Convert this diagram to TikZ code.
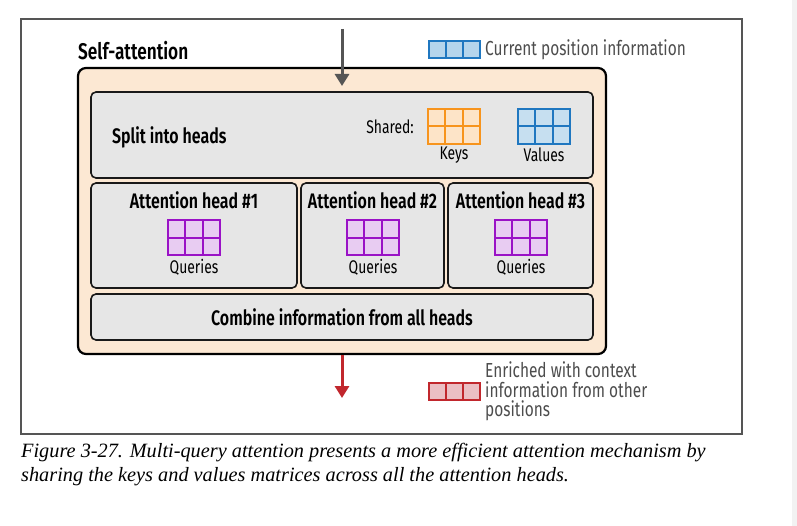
\documentclass[tikz,border=0pt]{standalone}
\usepackage{fontspec}
\setmainfont{Fira Sans}[FakeStretch=0.76, BoldFont={Fira Sans SemiBold}, BoldFeatures={FakeStretch=0.76}]
\newfontfamily\capfont{Liberation Serif}
\usetikzlibrary{arrows.meta,calc}
\definecolor{peach}{HTML}{FCE8D3}
\definecolor{boxgray}{HTML}{E6E6E6}
\definecolor{korange}{HTML}{F7941D}
\definecolor{korangefill}{HTML}{FDE4C8}
\definecolor{vblue}{HTML}{1F77C0}
\definecolor{vbluefill}{HTML}{C6DFF0}
\definecolor{lblue}{HTML}{B5D5EC}
\definecolor{qpurple}{HTML}{9A12C6}
\definecolor{qpurplefill}{HTML}{E8CCF2}
\definecolor{ered}{HTML}{C1272D}
\definecolor{eredfill}{HTML}{EBBFC4}
\definecolor{darkgray}{HTML}{555555}
\definecolor{txtgray}{HTML}{4D4D4D}
\tikzset{
  panel/.style={draw=black!90, line width=1.6pt, fill=boxgray, rounded corners=5pt, inner sep=0pt},
  title/.style={font=\fontsize{21}{24}\selectfont\bfseries, inner sep=0pt},
  lbl/.style={font=\fontsize{18.3}{20}\selectfont, inner sep=0pt},
  legend/.style={font=\fontsize{20.3}{19.5}\selectfont, text=txtgray, inner sep=0pt, align=left},
  cell/.style={line width=2pt, inner sep=0pt},
  grid32/.style={cell, draw=#1, path picture={
    \draw[#1, line width=2pt]
      ($(path picture bounding box.north west)!1/3!(path picture bounding box.north east)$) --
      ($(path picture bounding box.south west)!1/3!(path picture bounding box.south east)$)
      ($(path picture bounding box.north west)!2/3!(path picture bounding box.north east)$) --
      ($(path picture bounding box.south west)!2/3!(path picture bounding box.south east)$)
      (path picture bounding box.west) -- (path picture bounding box.east);}},
  grid31/.style={cell, draw=#1, path picture={
    \draw[#1, line width=2pt]
      ($(path picture bounding box.north west)!1/3!(path picture bounding box.north east)$) --
      ($(path picture bounding box.south west)!1/3!(path picture bounding box.south east)$)
      ($(path picture bounding box.north west)!2/3!(path picture bounding box.north east)$) --
      ($(path picture bounding box.south west)!2/3!(path picture bounding box.south east)$);}},
  flow/.style={line width=3pt, -{Triangle[length=12pt,width=14pt]}},
}
\begin{document}
\begin{tikzpicture}[x=1pt,y=-1pt]
\useasboundingbox (0,0) rectangle (797,526);
\fill[white] (0,0) rectangle (797,526);
\fill[black!5] (792,0) rectangle (797,526);
% outer frame
\draw[darkgray, line width=1.3pt] (21,19) rectangle (742,434);
% title
\node[font=\fontsize{22.7}{24}\selectfont\bfseries, anchor=west, inner sep=0pt] (satitle) at (78,51) {Self-attention};
% container
\node[draw=black, line width=2.2pt, fill=peach, rounded corners=8pt, minimum width=528pt, minimum height=286pt, inner sep=0pt] (cont) at (342,211) {};
% split box
\node[panel, minimum width=502pt, minimum height=86pt] (split) at (342,135) {};
\node[title, anchor=west] (splitlbl) at (112,137) {Split into heads};
\node[lbl, anchor=east] (shared) at (414,127) {Shared:};
\node[grid32=korange, fill=korangefill, minimum width=52pt, minimum height=35pt] (keys) at (454,126.5) {};
\node[lbl] (keyslbl) at (454,155) {Keys};
\node[grid32=vblue, fill=vbluefill, minimum width=52pt, minimum height=35pt] (values) at (544,126.5) {};
\node[lbl] (valueslbl) at (544,155) {Values};
% heads
\node[panel, minimum width=206pt, minimum height=105pt] (h1) at (194,235.5) {};
\node[panel, minimum width=143pt, minimum height=105pt] (h2) at (372.5,235.5) {};
\node[panel, minimum width=145pt, minimum height=105pt] (h3) at (520.5,235.5) {};
\node[title] (h1t) at (194,200) {Attention head \#1};
\node[title] (h2t) at (372.5,200) {Attention head \#2};
\node[title] (h3t) at (520.5,200) {Attention head \#3};
\node[grid32=qpurple, fill=qpurplefill, minimum width=52pt, minimum height=35pt] (q1) at (194,238) {};
\node[grid32=qpurple, fill=qpurplefill, minimum width=52pt, minimum height=35pt] (q2) at (373,238) {};
\node[grid32=qpurple, fill=qpurplefill, minimum width=52pt, minimum height=35pt] (q3) at (521,238) {};
\node[lbl] (q1l) at (194,267) {Queries};
\node[lbl] (q2l) at (373,267) {Queries};
\node[lbl] (q3l) at (521,267) {Queries};
% combine
\node[panel, minimum width=502pt, minimum height=46pt] (comb) at (342,317) {};
\node[title] (combl) at (342,317) {Combine information from all heads};
% arrows
\coordinate (instart) at (342,29);
\coordinate (inend) at (342,86);
\draw[flow, darkgray] (instart) -- (inend);
\coordinate (outend) at (342,398);
\draw[flow, ered] (cont.south -| outend) -- (outend);
% legends
\node[grid31=vblue, fill=lblue, minimum width=51pt, minimum height=17pt] (leg1) at (454.5,50) {};
\node[legend, anchor=west] (leg1t) at (485,50) {Current position information};
\node[grid31=ered, fill=eredfill, minimum width=51pt, minimum height=17pt] (leg2) at (454.5,391.5) {};
\node[legend, anchor=west] (leg2t) at (485,391.5) {Enriched with context\\information from other\\positions};
% caption
\node[anchor=west, inner sep=0pt, font=\capfont\itshape\fontsize{20.3}{24}\selectfont, align=left] (cap) at (21,465) {Figure 3-27. Multi-query attention presents a more efficient attention mechanism by\\sharing the keys and values matrices across all the attention heads.};
\end{tikzpicture}
\end{document}
